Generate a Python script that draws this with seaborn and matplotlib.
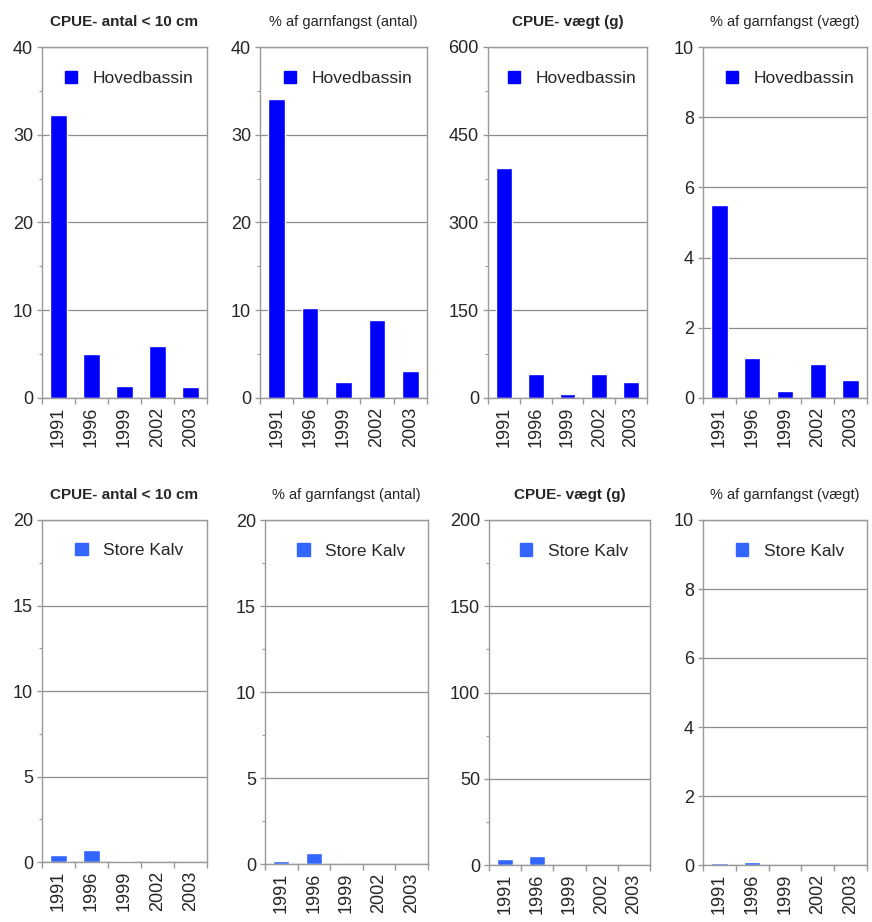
import matplotlib
matplotlib.use("Agg")
import matplotlib.pyplot as plt
from matplotlib.patches import Patch
from matplotlib.ticker import MultipleLocator, FixedLocator
import seaborn as sns
import pandas as pd

sns.set_style("white")
plt.rcParams['font.family'] = ['Liberation Sans', 'DejaVu Sans']

years = ["1991", "1996", "1999", "2002", "2003"]

# Hovedbassin (top row)
hov_cpue_antal = [32.2, 5.0, 1.4, 5.9, 1.2]
hov_pct_antal = [34.1, 10.3, 1.8, 8.9, 3.1]
hov_cpue_vaegt = [393, 41, 7, 41, 27]
hov_pct_vaegt = [5.5, 1.14, 0.2, 0.97, 0.51]

# Store Kalv (bottom row)
sk_cpue_antal = [0.41, 0.70, 0.05, 0.0, 0.0]
sk_pct_antal = [0.2, 0.66, 0.0, 0.0, 0.0]
sk_cpue_vaegt = [3.5, 5.4, 0.0, 0.0, 0.0]
sk_pct_vaegt = [0.05, 0.09, 0.0, 0.0, 0.0]

titles = ["CPUE- antal < 10 cm", "% af garnfangst (antal)", "CPUE- vægt (g)", "% af garnfangst (vægt)"]
title_bold = [True, False, True, False]
regions = ["Hovedbassin", "Store Kalv"]
colors = ["#0000FF", "#3366FF"]

top_ylim = [40, 40, 600, 10]
top_step = [10, 10, 150, 2]
bot_ylim = [20, 20, 200, 10]
bot_step = [5, 5, 50, 2]

W, H = 872, 922
fig = plt.figure(figsize=(W / 100, H / 100), dpi=100)


def rect(x0, x1, y0, y1):
    return [x0 / W, 1 - y1 / H, (x1 - x0) / W, (y1 - y0) / H]


top_rects = [rect(42, 207, 47, 398), rect(260, 427, 47, 398),
             rect(488, 647, 47, 398), rect(703, 867, 47, 398)]
bot_rects = [rect(42, 207, 520, 862), rect(265, 428, 520, 864),
             rect(489, 650, 520, 865), rect(703, 867, 520, 865)]

rows = [
    (regions[0], colors[0], [hov_cpue_antal, hov_pct_antal, hov_cpue_vaegt, hov_pct_vaegt],
     top_rects, top_ylim, top_step),
    (regions[1], colors[1], [sk_cpue_antal, sk_pct_antal, sk_cpue_vaegt, sk_pct_vaegt],
     bot_rects, bot_ylim, bot_step),
]

spine_color = "#999999"
grid_color = "#8c8c8c"

for region, color, series, rects, ylims, steps in rows:
    for i in range(4):
        ax = fig.add_axes(rects[i])
        df = pd.DataFrame({"year": years, "value": series[i], "region": region})
        sns.barplot(data=df, x="year", y="value", hue="region", palette=[color],
                    width=0.5, saturation=1, legend=False, ax=ax)
        ax.set_xlim(-0.5, 4.5)
        ax.set_ylim(0, ylims[i])
        ax.yaxis.set_major_locator(MultipleLocator(steps[i]))
        if i != 3:
            ax.yaxis.set_minor_locator(MultipleLocator(steps[i] / 2))
        ax.grid(axis="y", which="major", color=grid_color, linewidth=0.9)
        ax.set_axisbelow(True)
        ax.set_xlabel("")
        ax.set_ylabel("")
        ax.set_xticks(range(5))
        ax.set_xticklabels(years, rotation=90, fontsize=13)
        ax.xaxis.set_minor_locator(FixedLocator([k - 0.5 for k in range(6)]))
        ax.tick_params(axis="x", which="major", length=0, pad=6)
        ax.tick_params(axis="x", which="minor", length=4.5, width=1, color=spine_color, direction="out", bottom=True)
        ax.tick_params(axis="y", which="major", length=3.5, width=1, color=spine_color, direction="out",
                       labelsize=13, pad=3, left=True)
        ax.tick_params(axis="y", which="minor", length=2.5, width=0.8, color=spine_color, direction="out", left=True)
        for s in ax.spines.values():
            s.set_visible(True)
            s.set_color(spine_color)
            s.set_linewidth(1)
        ax.set_title(titles[i], fontsize=11 if title_bold[i] else 10.5,
                     fontweight="bold" if title_bold[i] else "normal", pad=15)
        ax.legend(handles=[Patch(facecolor=color, edgecolor=color)], labels=[region],
                  loc="center", bbox_to_anchor=(0.53, 0.91), frameon=False,
                  fontsize=12.5, handlelength=0.7, handleheight=0.7, handletextpad=0.9)

fig.savefig("out.png", dpi=100)
